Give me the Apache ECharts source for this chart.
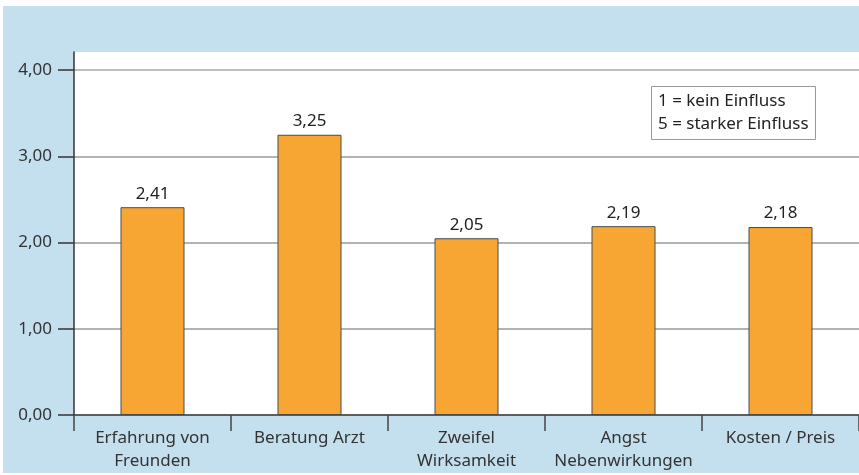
<!DOCTYPE html>
<html>
<head>
<meta charset="utf-8">
<script src="https://cdn.jsdelivr.net/npm/echarts@6/dist/echarts.min.js"></script>
<style>
  html, body { margin: 0; padding: 0; background: #fff; }
  #chart { width: 859px; height: 475px; }
</style>
</head>
<body>
<div id="chart"></div>
<script>
  const categories = ['Erfahrung von\nFreunden', 'Beratung Arzt', 'Zweifel\nWirksamkeit', 'Angst\nNebenwirkungen', 'Kosten / Preis'];
  const values = [2.41, 3.25, 2.05, 2.19, 2.18];
  const yTicks = [0, 1, 2, 3, 4];
  const noteLines = ['1 = kein Einfluss', '5 = starker Einfluss'];

  const chart = echarts.init(document.getElementById('chart'));
  const fontFamily = '"Noto Sans", sans-serif';
  const comma = (v, digits) => Number(v).toFixed(digits).replace('.', ',');

  chart.setOption({
    animation: false,
    textStyle: { fontFamily },
    graphic: [
      {
        type: 'rect',
        z: -20,
        shape: { x: 3, y: 6, width: 856, height: 467 },
        style: { fill: '#c4dfee' },
      },
    ],
    title: {
      text: noteLines.join('\n'),
      left: 651,
      top: 86,
      padding: [4, 7],
      borderColor: '#999',
      borderWidth: 1,
      backgroundColor: '#fff',
      textStyle: { fontSize: 17, fontWeight: 'normal', color: '#222', lineHeight: 23, fontFamily },
    },
    grid: {
      left: 74,
      right: 0,
      top: 52,
      bottom: 60,
      show: true,
      backgroundColor: '#fff',
      borderWidth: 0,
    },
    xAxis: {
      type: 'category',
      data: categories,
      axisLine: { show: true, lineStyle: { color: '#444', width: 1.5 } },
      axisTick: { show: true, interval: 0, length: 16, lineStyle: { color: '#444', width: 1.5 } },
      axisLabel: { interval: 0, fontSize: 17, color: '#333', lineHeight: 23, margin: 12, fontFamily },
    },
    yAxis: {
      type: 'value',
      min: 0,
      max: 4.21,
      interval: 1,
      axisLine: { show: true, lineStyle: { color: '#333', width: 1.5 } },
      axisTick: { show: true, length: 16, customValues: yTicks, lineStyle: { color: '#333', width: 1.5 } },
      axisLabel: {
        customValues: yTicks,
        fontSize: 17,
        color: '#333',
        margin: 22,
        fontFamily,
        formatter: (v) => comma(v, 2),
      },
      splitLine: {
        lineStyle: { color: ['#999', '#999', '#999', '#999', '#aaa', 'rgba(0,0,0,0)'], width: 1.5 },
      },
    },
    series: [
      {
        type: 'bar',
        data: values,
        barWidth: 64,
        itemStyle: { color: '#f8a633', borderColor: '#4a4a4a', borderWidth: 1 },
        label: {
          show: true,
          position: 'top',
          distance: 5,
          fontSize: 17,
          color: '#222',
          fontFamily,
          formatter: (p) => comma(p.value, 2),
        },
      },
    ],
  });
</script>
</body>
</html>
